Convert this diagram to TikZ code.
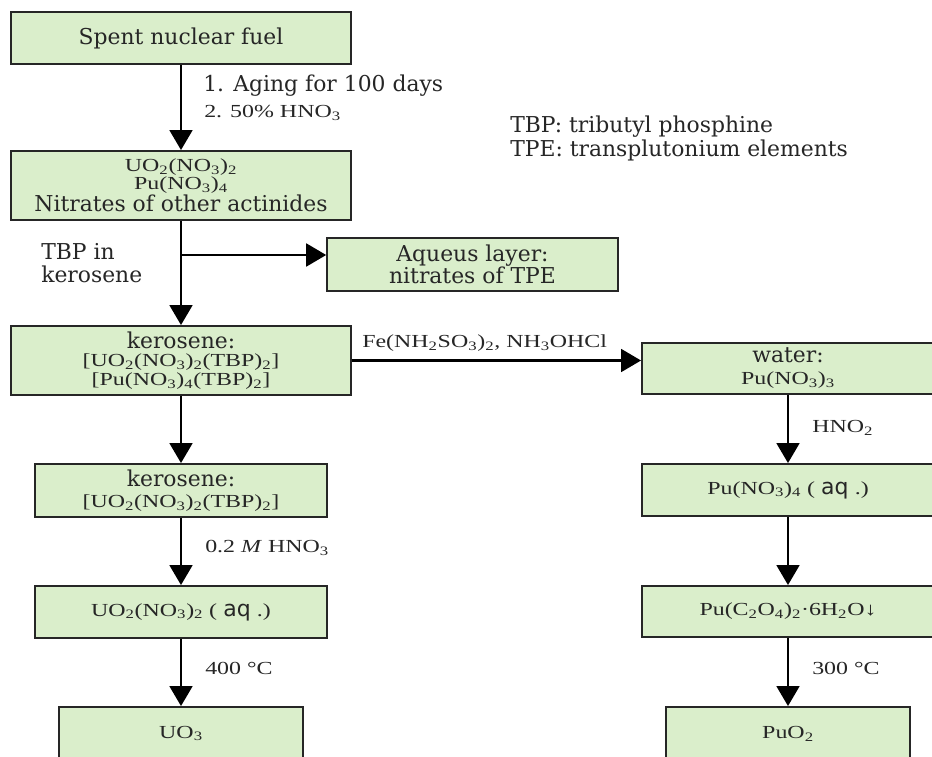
\documentclass[tikz,border=0pt]{standalone}
\usepackage{fontspec}
\setmainfont{DejaVu Serif}
\newfontfamily\chemfont[FakeStretch=1.3]{Liberation Serif}
\newfontfamily\aqfont{DejaVu Sans}
\usepackage{xcolor}
\usetikzlibrary{arrows.meta,positioning}

\definecolor{boxgreen}{RGB}{218,238,203}
\newcommand\low[1]{\textsubscript{#1}}
\newcommand\aq{(\,\,{\aqfont\fontsize{16.5}{18}\selectfont aq}\,\,.)}
\newcommand\chemline[1]{{\chemfont\fontsize{13.8}{13.8}\selectfont #1}}

\begin{document}
\begin{tikzpicture}[x=0.75pt,y=-0.75pt,
  box/.style={draw=black!85,line width=1.4pt,fill=boxgreen,inner sep=0pt,align=center,
    text=black!85,font=\fontsize{16.4}{17}\selectfont},
  chem/.style={font=\chemfont\fontsize{13.8}{17}\selectfont},
  note/.style={inner sep=0pt,anchor=west,align=left,text=black!85,font=\fontsize{16.4}{17.5}\selectfont},
  arr/.style={line width=2.2pt,-{Triangle[length=15pt,width=17pt]}}]

\def\wide{255pt} \def\mid{219pt} \def\small{183pt}
\useasboundingbox (0,0) rectangle (932,757);

% left column
\node[box,minimum width=\wide,minimum height=39pt] (fuel) at (181,38) {Spent nuclear fuel};
\node[box,minimum width=\wide,minimum height=51.75pt] (nitr) at (181,185.5)
  {\chemline{UO\low2(NO\low3)\low2}\\[-3.5pt]
   \chemline{Pu(NO\low3)\low4}\\[-0.5pt]
   Nitrates of other actinides};
\node[box,minimum width=218pt,minimum height=39.75pt] (aqu) at (472.5,264.5)
  {Aqueus layer:\\nitrates of TPE};
\node[box,minimum width=\wide,minimum height=51.75pt] (ker) at (181,360.5)
  {kerosene:\\[-3.5pt]
   \chemline{[UO\low2(NO\low3)\low2(TBP)\low2]}\\[-3pt]
   \chemline{[Pu(NO\low3)\low4(TBP)\low2]}};
\node[box,minimum width=\mid,minimum height=39.75pt] (kerU) at (181,490.5)
  {kerosene:\\[-1.5pt]
   \chemline{[UO\low2(NO\low3)\low2(TBP)\low2]}};
\node[box,chem,minimum width=\mid,minimum height=39pt] (uaq) at (181,612)
  {UO\low2(NO\low3)\low2 \aq};
\node[box,chem,minimum width=\small,minimum height=39.75pt] (uo3) at (181,733.5) {UO\low3};

% right column
\node[box,minimum width=\mid,minimum height=38.25pt] (water) at (788,368.5)
  {water:\\[-0.5pt]\chemline{Pu(NO\low3)\low3}};
\node[box,chem,minimum width=\mid,minimum height=39pt] (puaq) at (788,490)
  {Pu(NO\low3)\low4 \aq};
\node[box,chem,minimum width=\mid,minimum height=38.25pt] (puox) at (788,611.5)
  {Pu(C\low2O\low4)\low2·6H\low2O↓};
\node[box,chem,minimum width=\small,minimum height=39.75pt] (puo2) at (788,733.5) {PuO\low2};

% reagents and conditions
\node[note] (aging) at (203,86) {1. Aging for 100 days};
\node[note,chem] (acid) at (204,113) {2. 50\% HNO\low3};
\node[note] (tbp) at (41,263) {TBP in\\kerosene};
\node[note,chem] (redu) at (362,343) {Fe(NH\low2SO\low3)\low2, NH\low3OHCl};
\node[note,chem] (dil) at (205,548) {0.2 \textit{M} HNO\low3};
\node[note,chem] (heatU) at (205,668) {400 °C};
\node[note,chem] (nitrite) at (812,428) {HNO\low2};
\node[note,chem] (heatPu) at (812,668) {300 °C};
\node[note,font=\fontsize{16.4}{18}\selectfont] (legend) at (510,138)
  {TBP: tributyl phosphine\\TPE: transplutonium elements};

\coordinate (tap) at (181,255);

\draw[arr] (fuel) -- (nitr);
\draw[arr] (nitr) -- (ker);
\draw[arr] (tap) -- (tap -| aqu.west);
\draw[arr] (ker.east) -- (ker.east -| water.west);
\draw[arr] (ker) -- (kerU);
\draw[arr] (kerU) -- (uaq);
\draw[arr] (uaq) -- (uo3);
\draw[arr] (water) -- (puaq);
\draw[arr] (puaq) -- (puox);
\draw[arr] (puox) -- (puo2);

\end{tikzpicture}
\end{document}
